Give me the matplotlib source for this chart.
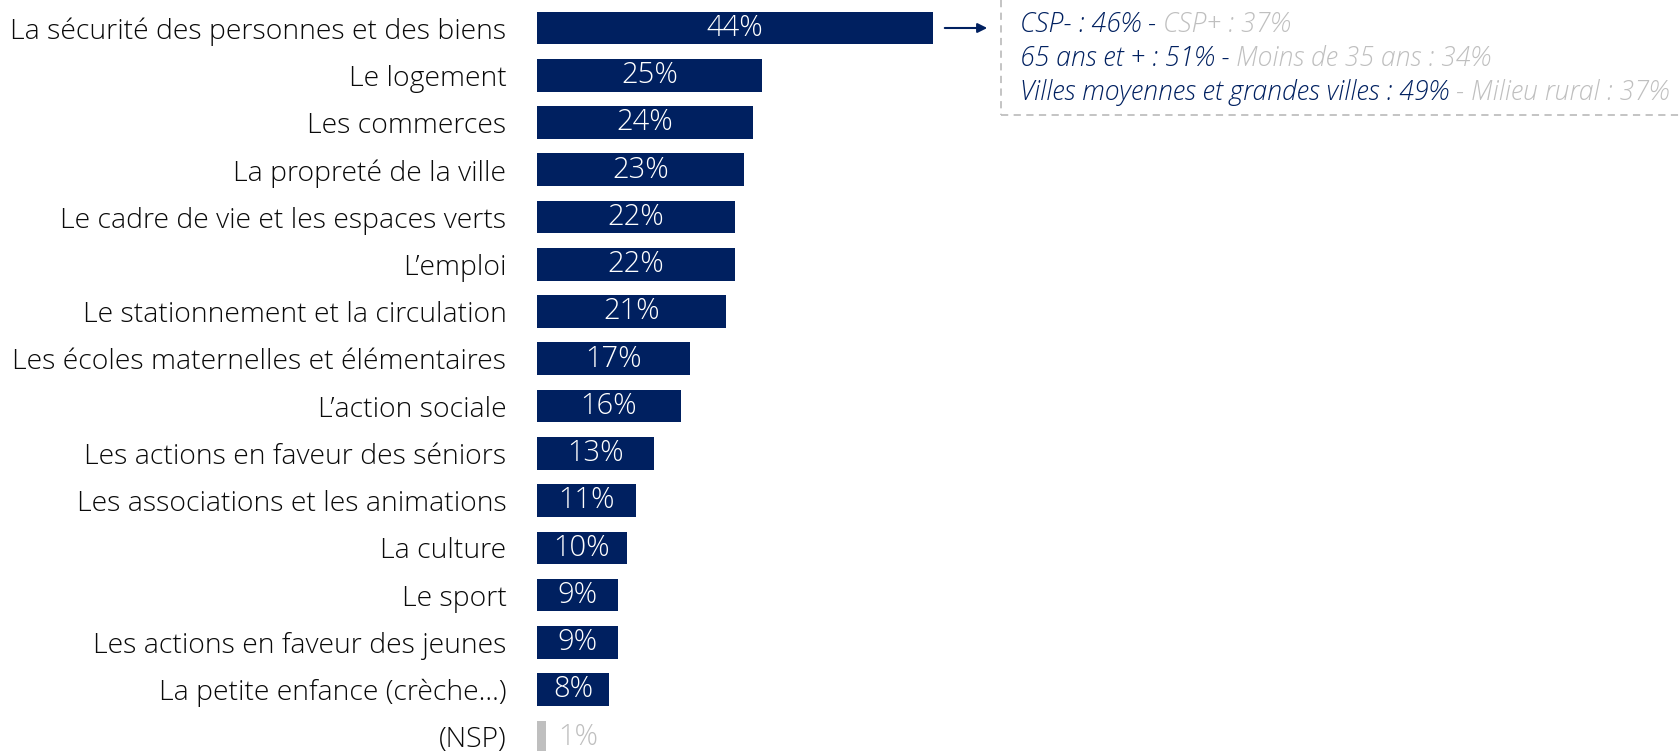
import matplotlib
matplotlib.use('Agg')
import matplotlib.pyplot as plt

plt.rcParams['font.family'] = ['Open Sans', 'DejaVu Sans']

categories = ['La sécurité des personnes et des biens', 'Le logement', 'Les commerces',
              'La propreté de la ville', 'Le cadre de vie et les espaces verts', 'L\u2019emploi',
              'Le stationnement et la circulation', 'Les écoles maternelles et élémentaires',
              'L\u2019action sociale', 'Les actions en faveur des séniors',
              'Les associations et les animations', 'La culture', 'Le sport',
              'Les actions en faveur des jeunes', 'La petite enfance (crèche\u2026)', '(NSP)']
values = [44, 25, 24, 23, 22, 22, 21, 17, 16, 13, 11, 10, 9, 9, 8, 1]
value_labels = [f'{v}%' for v in values]

note_main = ['CSP- : 46% - ', '65 ans et + : 51% - ', 'Villes moyennes et grandes villes : 49%']
note_rest = ['CSP+ : 37%', 'Moins de 35 ans : 34%', ' - Milieu rural : 37%']

navy = '#002060'
grey = '#BFBFBF'
W, H = 1679, 751

fig = plt.figure(figsize=(W / 100, H / 100), dpi=100)
ax = fig.add_axes([537 / W, 0, 1 - 537 / W, 1])

ypos = list(range(len(values)))
colors = [navy] * (len(values) - 1) + [grey]
ax.barh(ypos, values, height=0.69, color=colors)
ax.set_xlim(0, (W - 537) / 9)
ax.set_ylim(15.30, -0.593)

for y, v, lab in zip(ypos, values, value_labels):
    if v > 2:
        ax.text(v / 2, y, lab, ha='center', va='center', color='white',
                fontsize=21, fontweight='light')
    else:
        ax.text(v + 1.4, y, lab, ha='left', va='center', color=grey,
                fontsize=21, fontweight='light')

ax.set_yticks(ypos)
ax.set_yticklabels(categories, fontsize=20.4, fontweight='light', color='#0a0a0a')
ax.tick_params(axis='y', length=0, pad=22)
ax.set_xticks([])
for s in ax.spines.values():
    s.set_visible(False)

# annotation box
fx = lambda px: px / W
fy = lambda py: 1 - py / H
fig.add_artist(plt.Line2D([fx(1001), fx(1001)], [fy(0), fy(115)], color=grey,
                          lw=1.3, ls=(0, (4, 3))))
fig.add_artist(plt.Line2D([fx(1001), fx(W)], [fy(115), fy(115)], color=grey,
                          lw=1.3, ls=(0, (4, 3))))
ax.annotate('', xy=(fx(990), fy(28)), xytext=(fx(942), fy(28)), xycoords='figure fraction',
            textcoords='figure fraction',
            arrowprops=dict(arrowstyle='-|>', color=navy, lw=1.5, mutation_scale=14))

for i, (a, b) in enumerate(zip(note_main, note_rest)):
    t1 = fig.text(fx(1020), fy(24 + 34.5 * i), a, color=navy, fontsize=19.2,
                  style='italic', fontweight='light', va='center', ha='left')
    ax.annotate(b, xy=(1, 0.5), xycoords=t1, va='center', ha='left', color=grey,
                fontsize=19.2, style='italic', fontweight='light')

fig.savefig('out.png', dpi=100)
